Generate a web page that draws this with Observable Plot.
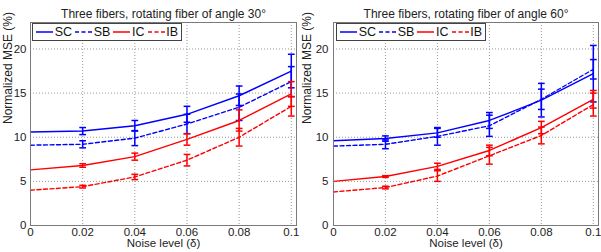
<!DOCTYPE html>
<html>
<head>
<meta charset="utf-8">
<script src="https://cdn.jsdelivr.net/npm/d3@7"></script>
<script src="https://cdn.jsdelivr.net/npm/@observablehq/plot@0.6"></script>
<style>
  html, body { margin: 0; padding: 0; background: #fff; }
  #wrap { position: relative; width: 601px; height: 252px; font-family: "Liberation Sans", Arial, sans-serif; }
  .panel { position: absolute; top: 0; }
  .legend { position: absolute; top: 23px; height: 18px; border: 1px solid #444; background: #fff;
            display: flex; align-items: center; font-size: 12.5px; color: #111; box-sizing: border-box; padding-left: 3px; }
  .legend span { margin: 0 3px 0 1px; }
  .legend svg { display: block; }
</style>
</head>
<body>
<div id="wrap"></div>
<script>
// ---------- data ----------
const noise = [0, 0.02, 0.04, 0.06, 0.08, 0.1];
const xTickLabels = ["0", "0.02", "0.04", "0.06", "0.08", "0.1"];
const yTicks = [0, 5, 10, 15, 20];
const seriesNames = ["SC", "SB", "IC", "IB"];
const seriesColors = ["#0000ff", "#0000ff", "#ff0000", "#ff0000"];
const seriesDashed = [false, true, false, true];

// Panel 1: angle 30
const sc30 = [10.6, 10.7, 11.3, 12.6, 14.7, 17.5];
const sc30Err = [0, 0.4, 0.6, 0.9, 1.1, 1.9];
const sb30 = [9.1, 9.2, 9.9, 11.5, 13.4, 16.3];
const sb30Err = [0, 0.4, 0.85, 1.1, 1.5, 1.7];
const ic30 = [6.3, 6.8, 7.8, 9.75, 11.9, 14.9];
const ic30Err = [0, 0.2, 0.4, 0.65, 1.2, 1.4];
const ib30 = [4.0, 4.4, 5.5, 7.4, 10.0, 13.5];
const ib30Err = [0, 0.15, 0.3, 0.65, 1.0, 1.1];

// Panel 2: angle 60
const sc60 = [9.6, 9.85, 10.5, 11.9, 14.2, 17.2];
const sc60Err = [0, 0.3, 0.5, 0.9, 1.9, 3.2];
const sb60 = [9.0, 9.2, 10.1, 11.3, 14.3, 17.7];
const sb60Err = [0, 0.5, 1.0, 1.2, 1.15, 1.1];
const ic60 = [5.0, 5.55, 6.7, 8.5, 11.1, 14.3];
const ic60Err = [0, 0.1, 0.35, 0.6, 0.7, 1.0];
const ib60 = [3.8, 4.3, 5.6, 7.9, 10.2, 13.7];
const ib60Err = [0, 0.15, 0.6, 0.95, 0.95, 1.3];

const titles = ["Three fibers, rotating fiber of angle 30°", "Three fibers, rotating fiber of angle 60°"];
const yLabel = "Normalized MSE (%)";
const xLabel = "Noise level (δ)";

// ---------- build ----------
const capSymbol = {
  draw(context, size) {
    const w = Math.sqrt(size);
    context.moveTo(-w, 0);
    context.lineTo(w, 0);
  }
};

function rowsFor(vals, errs) {
  return noise.map((x, i) => ({x, y: vals[i], err: errs[i], lo: vals[i] - errs[i], hi: vals[i] + errs[i]}));
}

function panel(cfg) {
  const marks = [
    Plot.ruleX(noise.slice(1), {stroke: "#9a9a9a", strokeDasharray: "1,2", strokeWidth: 1}),
    Plot.ruleY(yTicks.slice(1), {stroke: "#9a9a9a", strokeDasharray: "1,2", strokeWidth: 1}),
    Plot.axisX({ticks: noise, tickFormat: d => xTickLabels[noise.indexOf(d)], tickSize: 0, tickPadding: 2, label: null, fontSize: 11.5}),
    Plot.axisY({ticks: yTicks, tickSize: 0, tickPadding: cfg.yPad, label: null, fontSize: 11.5})
  ];
  cfg.series.forEach((s, k) => {
    const rows = rowsFor(s.vals, s.errs);
    const bars = rows.filter(d => d.err > 0);
    const color = seriesColors[k];
    marks.push(Plot.line(rows, {x: "x", y: "y", stroke: color, strokeWidth: 1.4,
      strokeDasharray: seriesDashed[k] ? "4,2.5" : null}));
    marks.push(Plot.ruleX(bars, {x: "x", y1: "lo", y2: "hi", stroke: color, strokeWidth: 1.5}));
    marks.push(Plot.dot(bars, {x: "x", y: "lo", symbol: capSymbol, r: 1.9, stroke: color, fill: "none", strokeWidth: 1.5}));
    marks.push(Plot.dot(bars, {x: "x", y: "hi", symbol: capSymbol, r: 1.9, stroke: color, fill: "none", strokeWidth: 1.5}));
  });
  marks.push(Plot.frame({stroke: "#7a7a7a", strokeWidth: 1}));
  marks.push(Plot.text([cfg.title], {frameAnchor: "top", dy: -13, fontSize: 12, fill: "#222"}));
  marks.push(Plot.text([yLabel], {frameAnchor: "left", rotate: -90, dx: cfg.yLabelDx, fontSize: 12, fill: "#222"}));
  marks.push(Plot.text([xLabel], {frameAnchor: "bottom", dy: 21, fontSize: 11.5, fill: "#222"}));
  return Plot.plot({
    width: cfg.width, height: 252,
    marginLeft: cfg.ml, marginRight: cfg.mr, marginTop: 22, marginBottom: 27,
    style: {fontFamily: "'Liberation Sans', Arial, sans-serif", fontSize: "11.5px", color: "#222", background: "transparent"},
    x: {domain: [0, 0.102]},
    y: {domain: [0, 23]},
    marks
  });
}

function legend(left) {
  const div = document.createElement("div");
  div.className = "legend";
  div.style.left = left + "px";
  div.style.width = "150px";
  seriesNames.forEach((name, k) => {
    const svg = d3.create("svg").attr("width", 18).attr("height", 10);
    svg.append("line").attr("x1", 0).attr("x2", 17).attr("y1", 5).attr("y2", 5)
      .attr("stroke", seriesColors[k]).attr("stroke-width", 1.5)
      .attr("stroke-dasharray", seriesDashed[k] ? "4,2.5" : null);
    div.appendChild(svg.node());
    const sp = document.createElement("span");
    sp.textContent = name;
    div.appendChild(sp);
  });
  return div;
}

const wrap = document.getElementById("wrap");
const configs = [
  {left: 0, width: 300, ml: 30, mr: 4, yPad: 4, yLabelDx: -22, title: titles[0],
   series: [{vals: sc30, errs: sc30Err}, {vals: sb30, errs: sb30Err}, {vals: ic30, errs: ic30Err}, {vals: ib30, errs: ib30Err}]},
  {left: 300, width: 301, ml: 33, mr: 3, yPad: 5, yLabelDx: -26, title: titles[1],
   series: [{vals: sc60, errs: sc60Err}, {vals: sb60, errs: sb60Err}, {vals: ic60, errs: ic60Err}, {vals: ib60, errs: ib60Err}]}
];
configs.forEach(cfg => {
  const d = document.createElement("div");
  d.className = "panel";
  d.style.left = cfg.left + "px";
  d.appendChild(panel(cfg));
  wrap.appendChild(d);
});
wrap.appendChild(legend(32));
wrap.appendChild(legend(336));
</script>
</body>
</html>
